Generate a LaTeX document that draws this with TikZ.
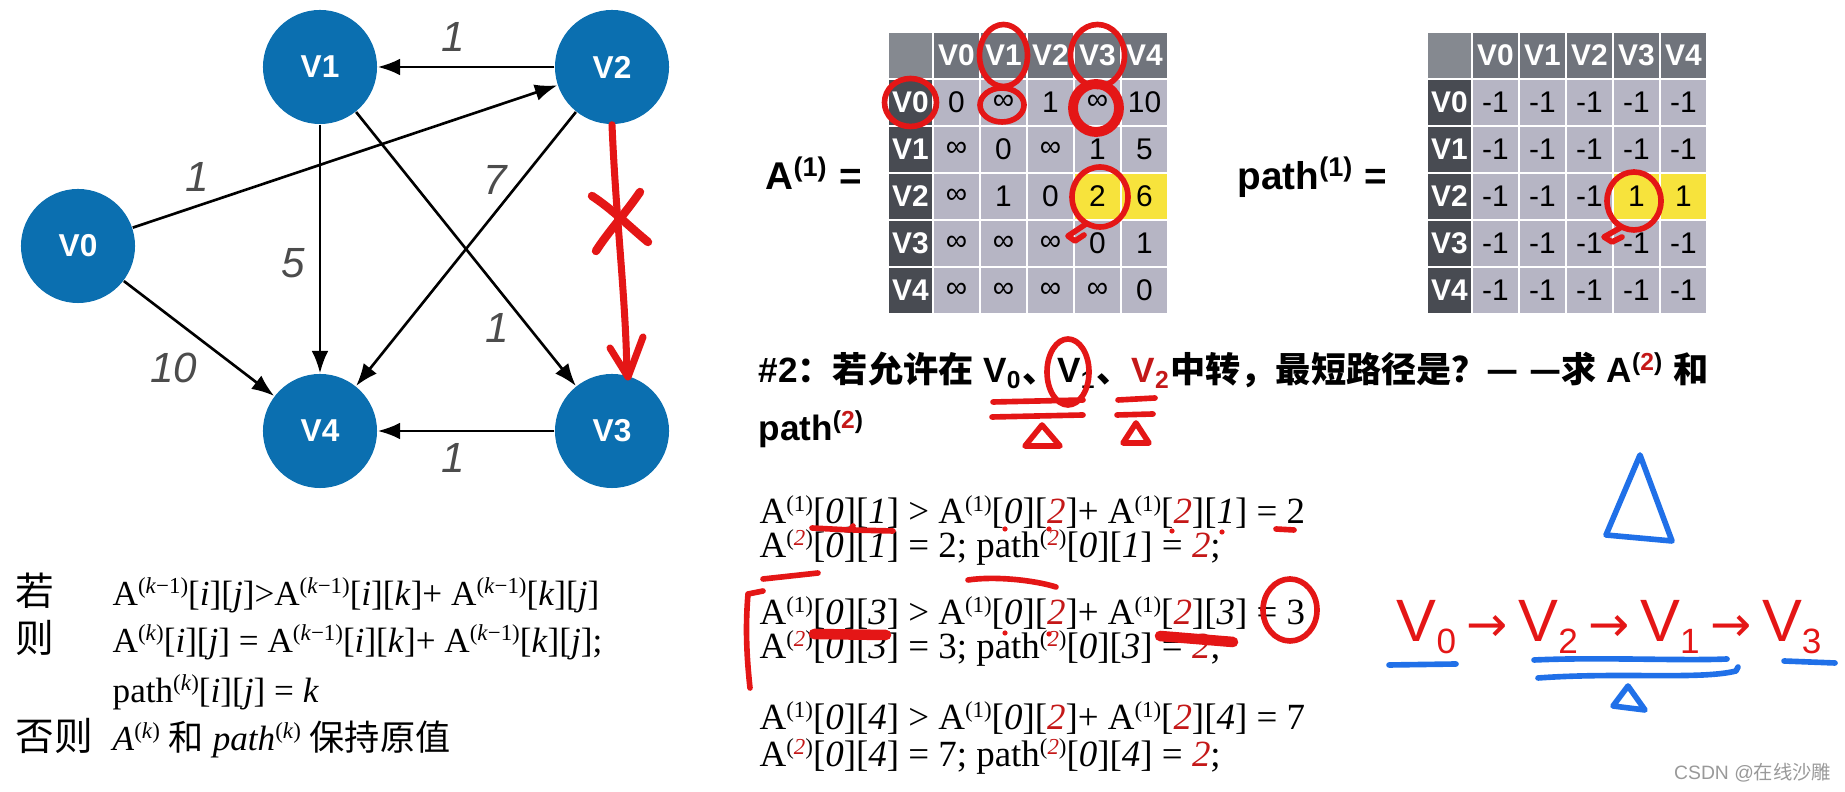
\documentclass[tikz,border=0pt]{standalone}
\usepackage{fontspec}
\setmainfont{Liberation Serif}
\setsansfont{Liberation Sans}
\newfontfamily\cjk{Noto Sans CJK SC}
\newfontfamily\djv{DejaVu Sans}
\usetikzlibrary{arrows.meta,positioning}

\definecolor{nodeblue}{RGB}{11,111,176}
\definecolor{hdrgray}{RGB}{112,116,124}
\definecolor{hdrdark}{RGB}{72,75,82}
\definecolor{cellgray}{RGB}{182,181,196}
\definecolor{hlyellow}{RGB}{247,227,60}
\definecolor{penred}{RGB}{228,22,22}
\definecolor{inkred}{RGB}{196,24,24}
\definecolor{penblue}{RGB}{32,112,232}

\newcommand{\sups}[1]{\raisebox{.75ex}{\fontsize{6.5}{6.5}\selectfont(#1)}}
\newcommand{\rd}[1]{\textcolor{inkred}{#1}}
\newcommand{\zh}[1]{{\cjk #1}}
\newcommand{\inff}{∞}
\newcommand{\harrow}{\hspace{3pt}{\djv\fontsize{14}{14}\selectfont →}\hspace{3pt}}
\newcommand{\hsub}[1]{\raisebox{-.35ex}{\fontsize{10}{10}\selectfont #1}}

\begin{document}
\begin{tikzpicture}[x=0.01cm,y=-0.01cm,>=Latex,
 vtx/.style={circle,fill=nodeblue,minimum size=1.14cm,inner sep=0pt,text=white,font=\sffamily\bfseries\fontsize{9}{9}\selectfont},
 edg/.style={->,line width=.75pt},
 wt/.style={font=\sffamily\itshape\fontsize{12}{12}\selectfont,text=black!70},
 hdr/.style={minimum width=.47cm,minimum height=.47cm,inner sep=0pt,draw=white,line width=.4pt,fill=hdrgray,text=white,font=\sffamily\bfseries\fontsize{8.5}{8.5}\selectfont},
 rowh/.style={hdr,minimum width=.45cm,fill=hdrdark},
 cellbox/.style={hdr,fill=cellgray,text=black,font=\sffamily\fontsize{8.5}{8.5}\selectfont},
 eqlab/.style={anchor=base west,inner sep=0pt,font=\sffamily\bfseries\fontsize{10}{10}\selectfont},
 fml/.style={anchor=base west,inner sep=0pt,font=\fontsize{10.5}{10.5}\selectfont},
 pen/.style={penred,line width=1.6pt,line cap=round,line join=round},
 bpen/.style={penblue,line width=1.6pt,line cap=round,line join=round}]
\useasboundingbox (0,0) rectangle (1845,792);

% graph
\node[vtx] (v0) at (78,246) {V0};
\node[vtx] (v1) at (320,67) {V1};
\node[vtx] (v2) at (612,67) {V2};
\node[vtx] (v3) at (612,431) {V3};
\node[vtx] (v4) at (320,431) {V4};
\draw[edg] (v2)--(v1);
\draw[edg] (v0)--(v2);
\draw[edg] (v1)--(v4);
\draw[edg] (v1)--(v3);
\draw[edg] (v2)--(v4);
\draw[edg] (v0)--(v4);
\draw[edg] (v3)--(v4);
\node[wt] (w21) at (453,37) {1};
\node[wt] (w02) at (197,177) {1};
\node[wt] (w14) at (293,263) {5};
\node[wt] (w24) at (495,180) {7};
\node[wt] (w13) at (497,328) {1};
\node[wt] (w04) at (174,368) {10};
\node[wt] (w34) at (453,458) {1};
% red strike on V2->V3
\draw[pen,line width=2pt] (v2.south) .. controls (616,220) and (626,300) .. (v3.75);
\draw[pen,line width=2pt] (610,348) -- (628,377) -- (643,337);
\draw[pen,line width=2.4pt] (592,196) .. controls (612,209) and (632,229) .. (648,242);
\draw[pen,line width=2.4pt] (640,192) .. controls (625,214) and (608,232) .. (596,251);

% A(1)
\node[eqlab,font=\sffamily\bfseries\fontsize{11}{11}\selectfont] (alab) at (765,190) {A\textsuperscript{(1)} =};
\node[hdr,minimum width=.45cm,fill=hdrgray!85!white] (acorner) at (910.5,55.5) {};
\foreach \lab [count=\i from 0] in {V0,V1,V2,V3,V4} {
  \node[hdr] (acol\i) at (956.5+47*\i,55.5) {\lab};
  \node[rowh] (arow\i) at (910.5,102.5+47*\i) {\lab};
}
\foreach \rowvals [count=\r from 0] in {{0,\inff,1,\inff,10},{\inff,0,\inff,1,5},{\inff,1,0,2,6},{\inff,\inff,\inff,0,1},{\inff,\inff,\inff,\inff,0}} {
  \foreach \val [count=\c from 0] in \rowvals
    \node[cellbox] (a\r\c) at (956.5+47*\c,102.5+47*\r) {\val};
}
\node[cellbox,fill=hlyellow] (a23y) at (a23) {2};
\node[cellbox,fill=hlyellow] (a24y) at (a24) {6};

% path(1)
\node[eqlab,font=\sffamily\bfseries\fontsize{11}{11}\selectfont] (plab) at (1237,190) {path\textsuperscript{(1)} =};
\node[hdr,minimum width=.45cm,fill=hdrgray!85!white] (pcorner) at (1449.5,55.5) {};
\foreach \lab [count=\i from 0] in {V0,V1,V2,V3,V4} {
  \node[hdr] (pcol\i) at (1495.5+47*\i,55.5) {\lab};
  \node[rowh] (prow\i) at (1449.5,102.5+47*\i) {\lab};
}
\foreach \r in {0,...,4} {
  \foreach \c in {0,...,4}
    \node[cellbox] (p\r\c) at (1495.5+47*\c,102.5+47*\r) {-1};
}
\node[cellbox,fill=hlyellow] (p23y) at (p23) {1};
\node[cellbox,fill=hlyellow] (p24y) at (p24) {1};

% red marks on the tables
\draw[pen] (acol1) ellipse [x radius=24,y radius=31];
\draw[pen] (acol3) ellipse [x radius=27,y radius=31];
\draw[pen] (arow0) ellipse [x radius=26,y radius=24];
\draw[pen] (1002,105) ellipse [x radius=22,y radius=17];
\draw[pen,line width=2.8pt] (1096,108) ellipse [x radius=23,y radius=24];
\draw[pen] (1100,197) ellipse [x radius=28,y radius=30];
\draw[pen] (1086,224) -- (1068,236) -- (1075,241) -- (1084,235);
\draw[pen] (1634,201) ellipse [x radius=27,y radius=29];
\draw[pen] (1620,228) -- (1604,237) -- (1612,242) -- (1622,237);

% question
\node[eqlab] (quest) at (758,383) {\#2\zh{：若允许在} V\textsubscript{0}\zh{、}V\textsubscript{1}\zh{、}\rd{V\textsubscript{2}}\zh{中转，最短路径是？}\zh{—}\hspace{3pt}\zh{—}\zh{求} A\textsuperscript{(\rd{2})} \zh{和}};
\node[eqlab] (quest2) at (758,441) {path\textsuperscript{(\rd{2})}};
\draw[pen] (1068,372) ellipse [x radius=21,y radius=33];
\draw[pen] (993,402) -- (1083,400);
\draw[pen] (992,417) -- (1083,415);
\draw[pen] (1042,425) -- (1025,446) -- (1060,446) -- cycle;
\draw[pen] (1118,400) -- (1155,398);
\draw[pen] (1117,415) -- (1153,414);
\draw[pen] (1136,423) -- (1123,443) -- (1149,443) -- cycle;

% worked steps
\node[fml] (s1) at (759,524) {A\sups{1}[\textit{0}][\textit{1}] > A\sups{1}[\textit{0}][\rd{\textit{2}}]+ A\sups{1}[\rd{\textit{2}}][\textit{1}] = 2};
\node[fml] (s2) at (759,558) {A\sups{\rd{\textit{2}}}[\textit{0}][\textit{1}] = 2; path\sups{\rd{\textit{2}}}[\textit{0}][\textit{1}] = \rd{\textit{2}};};
\node[fml] (s3) at (759,625) {A\sups{1}[\textit{0}][\textit{3}] > A\sups{1}[\textit{0}][\rd{\textit{2}}]+ A\sups{1}[\rd{\textit{2}}][\textit{3}] = 3};
\node[fml] (s4) at (759,659) {A\sups{\rd{\textit{2}}}[\textit{0}][\textit{3}] = 3; path\sups{\rd{\textit{2}}}[\textit{0}][\textit{3}] = \rd{\textit{2}};};
\node[fml] (s5) at (759,730) {A\sups{1}[\textit{0}][\textit{4}] > A\sups{1}[\textit{0}][\rd{\textit{2}}]+ A\sups{1}[\rd{\textit{2}}][\textit{4}] = 7};
\node[fml] (s6) at (759,767) {A\sups{\rd{\textit{2}}}[\textit{0}][\textit{4}] = 7; path\sups{\rd{\textit{2}}}[\textit{0}][\textit{4}] = \rd{\textit{2}};};
% red pen on steps
\draw[pen] (812,528) -- (850,530) -- (853,526);
\draw[pen] (853,530) -- (893,531);
\foreach \px/\py in {1005/529,1049/529,1172/531,1222/532,1005/633,1049/634}
  \fill[penred] (\px,\py) circle [radius=2.6];
\draw[pen] (1276,529) -- (1294,530);
\draw[pen] (763,579) -- (818,573);
\draw[pen] (968,580) .. controls (994,576) and (1034,580) .. (1056,587);
\draw[pen] (763,591) -- (748,594) .. controls (745,630) and (747,660) .. (750,688);
\draw[pen,line width=3pt] (814,634) -- (886,635);
\draw[pen,line width=3pt] (1160,636) -- (1233,642);
\draw[pen] (1290,610) ellipse [x radius=27,y radius=31];

% rule
\node[fml,font=\fontsize{11}{11}\selectfont] (ruo) at (15,606) {\zh{若}};
\node[fml,font=\fontsize{10}{10}\selectfont] (cond) at (112,606) {A\sups{\textit{k}−1}[\textit{i}][\textit{j}]>A\sups{\textit{k}−1}[\textit{i}][\textit{k}]+ A\sups{\textit{k}−1}[\textit{k}][\textit{j}]};
\node[fml,font=\fontsize{11}{11}\selectfont] (ze) at (15,653) {\zh{则}};
\node[fml,font=\fontsize{10}{10}\selectfont] (upd) at (112,653) {A\sups{\textit{k}}[\textit{i}][\textit{j}] = A\sups{\textit{k}−1}[\textit{i}][\textit{k}]+ A\sups{\textit{k}−1}[\textit{k}][\textit{j}];};
\node[fml,font=\fontsize{10}{10}\selectfont] (setp) at (112,703) {path\sups{\textit{k}}[\textit{i}][\textit{j}] = \textit{k}};
\node[fml,font=\fontsize{11}{11}\selectfont] (fouze) at (15,751) {\zh{否则}};
\node[fml,font=\fontsize{10}{10}\selectfont] (keep) at (112,751) {\textit{A}\sups{\textit{k}} \zh{和} \textit{path}\sups{\textit{k}} \zh{保持原值}};

% handwritten route
\node[anchor=base west,inner sep=0pt,text=penred,font=\sffamily\fontsize{17}{17}\selectfont] (route) at (1396,642) {V\hsub{0}\harrow V\hsub{2}\harrow V\hsub{1}\harrow V\hsub{3}};
\draw[bpen] (1640,455) -- (1606,535) -- (1672,541) -- cycle;
\draw[bpen] (1389,665) -- (1456,664);
\draw[bpen] (1534,660) .. controls (1600,657) and (1680,661) .. (1727,659);
\draw[bpen] (1538,678) .. controls (1620,672) and (1700,680) .. (1736,671) -- (1738,667);
\draw[bpen] (1628,686) -- (1613,706) -- (1645,710) -- cycle;
\draw[bpen] (1784,661) -- (1835,663);

\node[anchor=base east,inner sep=0pt,text=black!40,font=\sffamily\fontsize{5.5}{5.5}\selectfont] (mark) at (1832,780) {CSDN @\zh{在线沙雕}};
\end{tikzpicture}
\end{document}
